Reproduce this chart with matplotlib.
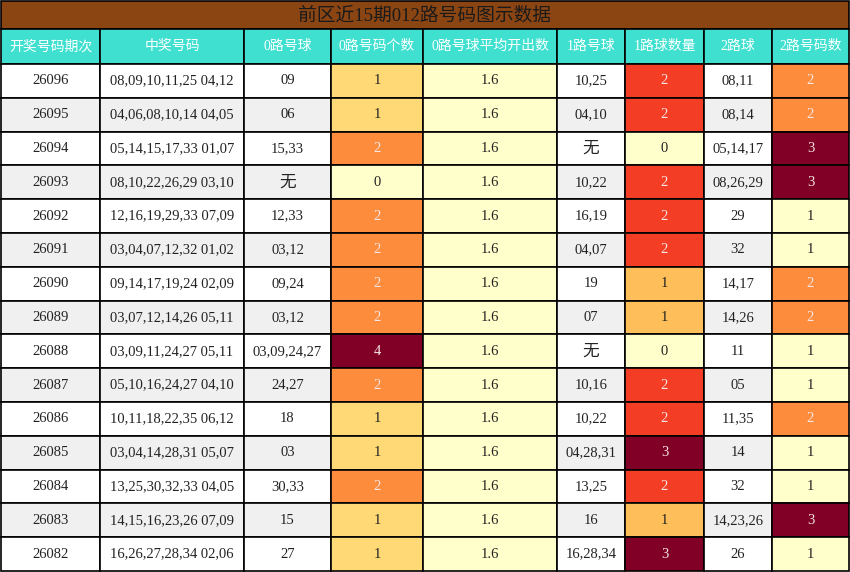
import matplotlib
matplotlib.use('Agg')
from matplotlib import pyplot as plt
from matplotlib.patches import Rectangle
import numpy as np

plt.rcParams['font.family'] = ['Liberation Serif', 'Noto Sans CJK SC', 'DejaVu Sans']

title = '前区近15期012路号码图示数据'
headers = ['开奖号码期次', '中奖号码', '0路号球', '0路号码个数', '0路号球平均开出数',
           '1路号球', '1路球数量', '2路球', '2路号码数']

periods = ['26096', '26095', '26094', '26093', '26092', '26091', '26090', '26089',
           '26088', '26087', '26086', '26085', '26084', '26083', '26082']
draws = ['08,09,10,11,25 04,12', '04,06,08,10,14 04,05', '05,14,15,17,33 01,07',
         '08,10,22,26,29 03,10', '12,16,19,29,33 07,09', '03,04,07,12,32 01,02',
         '09,14,17,19,24 02,09', '03,07,12,14,26 05,11', '03,09,11,24,27 05,11',
         '05,10,16,24,27 04,10', '10,11,18,22,35 06,12', '03,04,14,28,31 05,07',
         '13,25,30,32,33 04,05', '14,15,16,23,26 07,09', '16,26,27,28,34 02,06']
road0_balls = ['09', '06', '15,33', '无', '12,33', '03,12', '09,24', '03,12',
               '03,09,24,27', '24,27', '18', '03', '30,33', '15', '27']
road0_count = [1, 1, 2, 0, 2, 2, 2, 2, 4, 2, 1, 1, 2, 1, 1]
road0_avg = [1.6] * 15
road1_balls = ['10,25', '04,10', '无', '10,22', '16,19', '04,07', '19', '07',
               '无', '10,16', '10,22', '04,28,31', '13,25', '16', '16,28,34']
road1_count = [2, 2, 0, 2, 2, 2, 1, 1, 0, 2, 2, 3, 2, 1, 3]
road2_balls = ['08,11', '08,14', '05,14,17', '08,26,29', '29', '32', '14,17', '14,26',
               '11', '05', '11,35', '14', '32', '14,23,26', '26']
road2_count = [2, 2, 3, 3, 1, 1, 2, 2, 1, 1, 2, 1, 1, 3, 1]

columns = [periods, draws, road0_balls, road0_count, road0_avg,
           road1_balls, road1_count, road2_balls, road2_count]
heat_cols = {3, 4, 6, 8}

# layout in pixels
col_edges = [1, 100, 244, 331, 423, 557, 625, 704, 772, 849]
title_top, header_top, body_top, body_bottom = 1, 29, 64, 571
row_h = (body_bottom - body_top) / len(periods)

cmap = plt.get_cmap('YlOrRd')
line_kw = dict(edgecolor='black', linewidth=1.2)

fig = plt.figure(figsize=(8.5, 5.72), dpi=100)
ax = fig.add_axes([0, 0, 1, 1])
ax.set_xlim(0, 850)
ax.set_ylim(572, 0)
ax.axis('off')

# title bar
ax.add_patch(Rectangle((col_edges[0], title_top), col_edges[-1] - col_edges[0],
                       header_top - title_top, facecolor='#8B4513', **line_kw))
ax.text((col_edges[0] + col_edges[-1]) / 2, (title_top + header_top) / 2 + 1, title,
        ha='center', va='center', fontsize=13.5, color='#1a1a1a')

# header row
for j, h in enumerate(headers):
    x0, x1 = col_edges[j], col_edges[j + 1]
    ax.add_patch(Rectangle((x0, header_top), x1 - x0, body_top - header_top,
                           facecolor='#40E0D0', **line_kw))
    ax.text((x0 + x1) / 2, (header_top + body_top) / 2, h, ha='center', va='center',
            fontsize=10, color='white')

# body
for j, col in enumerate(columns):
    x0, x1 = col_edges[j], col_edges[j + 1]
    if j in heat_cols:
        vals = np.array(col, dtype=float)
        lo, hi = vals.min(), vals.max()
        norm = (vals - lo) / (hi - lo) if hi > lo else np.zeros_like(vals)
    for i, v in enumerate(col):
        y0 = body_top + i * row_h
        if j in heat_cols:
            face = cmap(norm[i])
            tcolor = '#f5e6e6' if norm[i] >= 0.5 else '#222222'
        else:
            face = 'white' if i % 2 == 0 else '#F0F0F0'
            tcolor = '#222222'
        ax.add_patch(Rectangle((x0, y0), x1 - x0, row_h, facecolor=face, **line_kw))
        txt = str(v)
        ax.text((x0 + x1) / 2, y0 + row_h / 2, txt, ha='center', va='center',
                fontsize=12 if txt == '无' else 10.5, color=tcolor)

fig.savefig('out.png', dpi=100)
